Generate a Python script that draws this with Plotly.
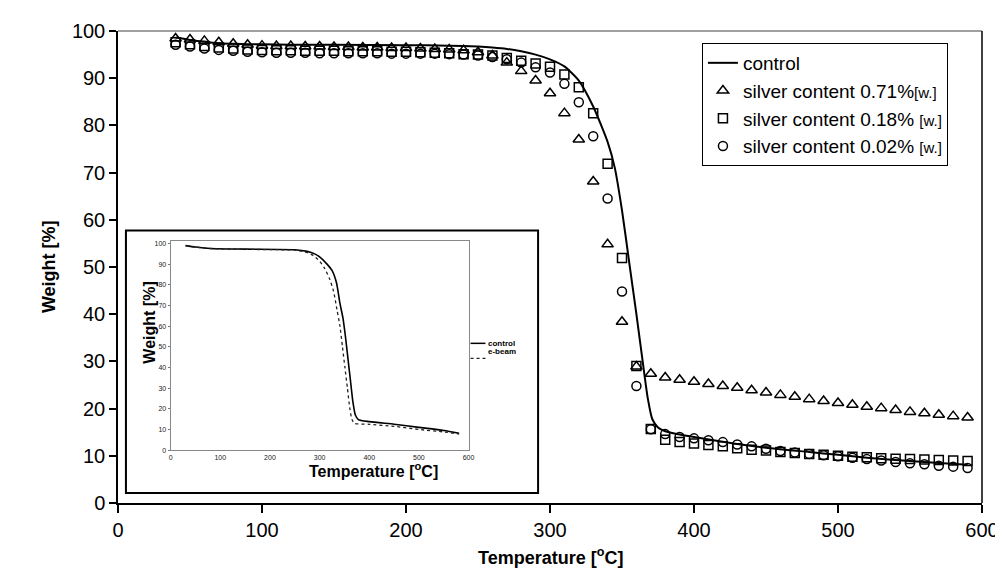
import plotly.graph_objects as go

# ---------------- data ----------------
temps = list(range(40, 600, 10))

ag071 = [98.4, 98.2, 97.9, 97.6, 97.3, 97.1, 96.9, 96.8, 96.8, 96.7, 96.7, 96.6, 96.6, 96.5,
         96.5, 96.4, 96.4, 96.3, 96.2, 96.1, 95.9, 95.5, 94.8, 93.3, 91.5, 89.5, 86.8, 82.6,
         77.0, 68.1, 54.8, 38.4, 28.9, 27.4, 26.6, 26.1, 25.7, 25.2, 24.8, 24.4, 23.9, 23.4,
         22.9, 22.5, 22.0, 21.6, 21.2, 20.8, 20.4, 20.1, 19.7, 19.3, 19.0, 18.7, 18.4, 18.1]

ag018 = [97.6, 97.2, 96.8, 96.5, 96.3, 96.1, 96.0, 95.9, 95.9, 95.8, 95.8, 95.8, 95.7, 95.7,
         95.7, 95.6, 95.6, 95.5, 95.4, 95.3, 95.1, 95.0, 94.8, 94.3, 93.7, 93.1, 92.4, 90.8,
         88.1, 82.6, 71.9, 51.9, 29.0, 15.7, 13.4, 12.9, 12.6, 12.3, 12.0, 11.6, 11.3, 11.1,
         10.8, 10.6, 10.4, 10.2, 10.0, 9.8, 9.7, 9.5, 9.4, 9.3, 9.2, 9.1, 9.0, 8.9]

ag002 = [97.1, 96.7, 96.3, 96.0, 95.8, 95.6, 95.5, 95.4, 95.4, 95.4, 95.3, 95.3, 95.3, 95.3,
         95.3, 95.2, 95.2, 95.2, 95.2, 95.1, 95.0, 94.8, 94.5, 94.0, 93.3, 92.3, 91.2, 88.8,
         84.9, 77.7, 64.5, 44.8, 24.8, 15.6, 14.6, 14.0, 13.7, 13.3, 12.9, 12.4, 12.0, 11.5,
         11.0, 10.7, 10.4, 10.1, 9.9, 9.6, 9.3, 9.0, 8.7, 8.4, 8.2, 7.9, 7.7, 7.4]

ctrl_t = [40, 50, 60, 70, 80, 90, 100, 120, 150, 200, 230, 250, 260, 270, 280, 290, 300, 310,
          320, 330, 340, 345, 350, 355, 360, 365, 368, 371, 375, 380, 390, 400, 420, 450, 480,
          500, 520, 550, 570, 590]
ctrl_w = [98.6, 98.1, 97.7, 97.4, 97.3, 97.2, 97.2, 97.1, 97.1, 97.0, 96.9, 96.7, 96.5, 96.2,
          95.7, 95.0, 94.0, 92.5, 89.5, 84.0, 76.5, 71.0, 62.0, 51.0, 40.0, 28.5, 22.0, 17.8,
          16.0, 15.2, 14.5, 14.0, 13.0, 11.7, 10.8, 10.2, 9.6, 8.9, 8.5, 8.1]

# inset (control vs e-beam)
ins_ctrl_t = [30, 50, 80, 150, 250, 275, 290, 300, 314, 325, 334, 341, 347, 352, 357, 362, 367,
              372, 378, 400, 450, 500, 550, 581]
ins_ctrl_w = [99.0, 98.3, 97.6, 97.3, 97.0, 96.2, 95.0, 93.5, 90.3, 87.0, 81.0, 71.0, 64.0,
              55.0, 44.5, 34.0, 23.5, 17.0, 14.8, 13.8, 12.5, 11.0, 9.5, 8.2]
ins_ebeam_t = [30, 50, 80, 150, 250, 270, 285, 300, 310, 320, 328, 335, 341, 346, 351, 356,
               361, 365, 370, 400, 450, 500, 550, 581]
ins_ebeam_w = [99.0, 98.3, 97.6, 97.2, 96.8, 96.0, 94.5, 91.5, 88.0, 83.0, 77.0, 68.0, 60.0,
               50.0, 40.0, 30.0, 20.0, 15.0, 13.0, 12.5, 11.5, 10.0, 8.8, 7.8]

x_ticks = [0, 100, 200, 300, 400, 500, 600]
y_ticks = [0, 10, 20, 30, 40, 50, 60, 70, 80, 90, 100]

FONT = "Liberation Sans, Arial, sans-serif"
WSPAN = "<span style='font-size:15px'>[w.]</span>"

fig = go.Figure()

fig.add_trace(go.Scatter(x=ctrl_t, y=ctrl_w, mode="lines", name="control",
                         line=dict(color="black", width=2, shape="spline", smoothing=0.6)))
fig.add_trace(go.Scatter(x=temps, y=ag071, mode="markers",
                         name="silver content 0.71%" + WSPAN,
                         marker=dict(symbol="triangle-up-open", size=10, color="black",
                                     line=dict(width=1.5, color="black"))))
fig.add_trace(go.Scatter(x=temps, y=ag018, mode="markers",
                         name="silver content 0.18% " + WSPAN,
                         marker=dict(symbol="square-open", size=9, color="black",
                                     line=dict(width=1.5, color="black"))))
fig.add_trace(go.Scatter(x=temps, y=ag002, mode="markers",
                         name="silver content 0.02% " + WSPAN,
                         marker=dict(symbol="circle-open", size=9, color="black",
                                     line=dict(width=1.5, color="black"))))

# inset traces
fig.add_trace(go.Scatter(x=ins_ctrl_t, y=ins_ctrl_w, mode="lines", xaxis="x2", yaxis="y2",
                         showlegend=False,
                         line=dict(color="black", width=1.6, shape="spline", smoothing=0.6)))
fig.add_trace(go.Scatter(x=ins_ebeam_t, y=ins_ebeam_w, mode="lines", xaxis="x2", yaxis="y2",
                         showlegend=False,
                         line=dict(color="#222", width=1.3, dash="dot", shape="spline",
                                   smoothing=0.6)))


# geometry helpers (plot area: x 110..980 px, y 22..495 px)
def px(xp):
    return (xp - 110) / 870.0


def py(yp):
    return (495 - yp) / 473.0


shapes = [
    dict(type="line", xref="paper", yref="paper", x0=0, x1=1, y0=1, y1=1,
         line=dict(color="#808080", width=1.5)),
    dict(type="line", xref="paper", yref="paper", x0=1, x1=1, y0=0, y1=1,
         line=dict(color="black", width=1.5)),
    dict(type="rect", xref="paper", yref="paper", x0=px(118), x1=px(533), y0=py(485),
         y1=py(222), line=dict(color="black", width=2), fillcolor="white", layer="below"),
    dict(type="line", xref="paper", yref="paper", x0=px(465), x1=px(480), y0=py(335),
         y1=py(335), line=dict(color="black", width=1.5)),
    dict(type="line", xref="paper", yref="paper", x0=px(465), x1=px(480), y0=py(350),
         y1=py(350), line=dict(color="#222", width=1.3, dash="dot")),
]

annotations = [
    dict(text="<b>Weight [%]</b>", xref="paper", yref="paper", x=px(28), y=py(258),
         textangle=-90, showarrow=False, font=dict(size=18, family=FONT, color="black")),
    dict(text="<b>Temperature [<sup>o</sup>C]</b>", xref="paper", yref="paper", x=px(545),
         y=py(562), showarrow=False, font=dict(size=18, family=FONT, color="black")),
    dict(text="<b>Weight [%]</b>", xref="paper", yref="paper", x=px(131), y=py(357),
         textangle=-90, showarrow=False, font=dict(size=16, family=FONT, color="black")),
    dict(text="<b>Temperature [<sup>o</sup>C]</b>", xref="paper", yref="paper", x=px(300),
         y=py(474), showarrow=False, font=dict(size=16, family=FONT, color="black")),
    dict(text="<b>control</b>", xref="paper", yref="paper", x=px(481), y=py(335),
         xanchor="left", showarrow=False, font=dict(size=8, family=FONT, color="black")),
    dict(text="<b>e-beam</b>", xref="paper", yref="paper", x=px(481), y=py(350),
         xanchor="left", showarrow=False, font=dict(size=8, family=FONT, color="black")),
]

fig.update_layout(
    width=1003, height=588,
    margin=dict(l=110, r=23, t=22, b=93),
    paper_bgcolor="white", plot_bgcolor="white",
    font=dict(family=FONT, color="black"),
    showlegend=True,
    legend=dict(x=px(698), y=py(34), xanchor="left", yanchor="top",
                bordercolor="black", borderwidth=1, bgcolor="white",
                font=dict(size=19, family=FONT, color="black"),
                tracegroupgap=0),
    xaxis=dict(range=[0, 600], tickvals=x_ticks, ticks="outside", ticklen=8, tickwidth=1.5,
               tickcolor="black", showline=True, linecolor="black", linewidth=1.5,
               showgrid=False, zeroline=False, tickfont=dict(size=20, family=FONT),
               domain=[0, 1]),
    yaxis=dict(range=[0, 100], tickvals=y_ticks, ticks="outside", ticklen=7, tickwidth=1.5,
               tickcolor="black", showline=True, linecolor="black", linewidth=1.5,
               showgrid=False, zeroline=False, tickfont=dict(size=20, family=FONT),
               domain=[0, 1]),
    xaxis2=dict(range=[0, 600], tickvals=x_ticks, ticks="", showline=True, linecolor="#888",
                linewidth=1, mirror=True, showgrid=False, zeroline=False,
                tickfont=dict(size=7, family=FONT, color="#222"),
                domain=[px(163), px(463)], anchor="y2"),
    yaxis2=dict(range=[0, 101.45], tickvals=y_ticks, ticks="outside", ticklen=2, tickwidth=1,
                tickcolor="#777", showline=True, linecolor="#888", linewidth=1, mirror=True,
                showgrid=False, zeroline=False, tickfont=dict(size=7, family=FONT, color="#222"),
                domain=[py(442), py(232)], anchor="x2"),
    shapes=shapes,
    annotations=annotations,
)

fig.write_html("out.html")
